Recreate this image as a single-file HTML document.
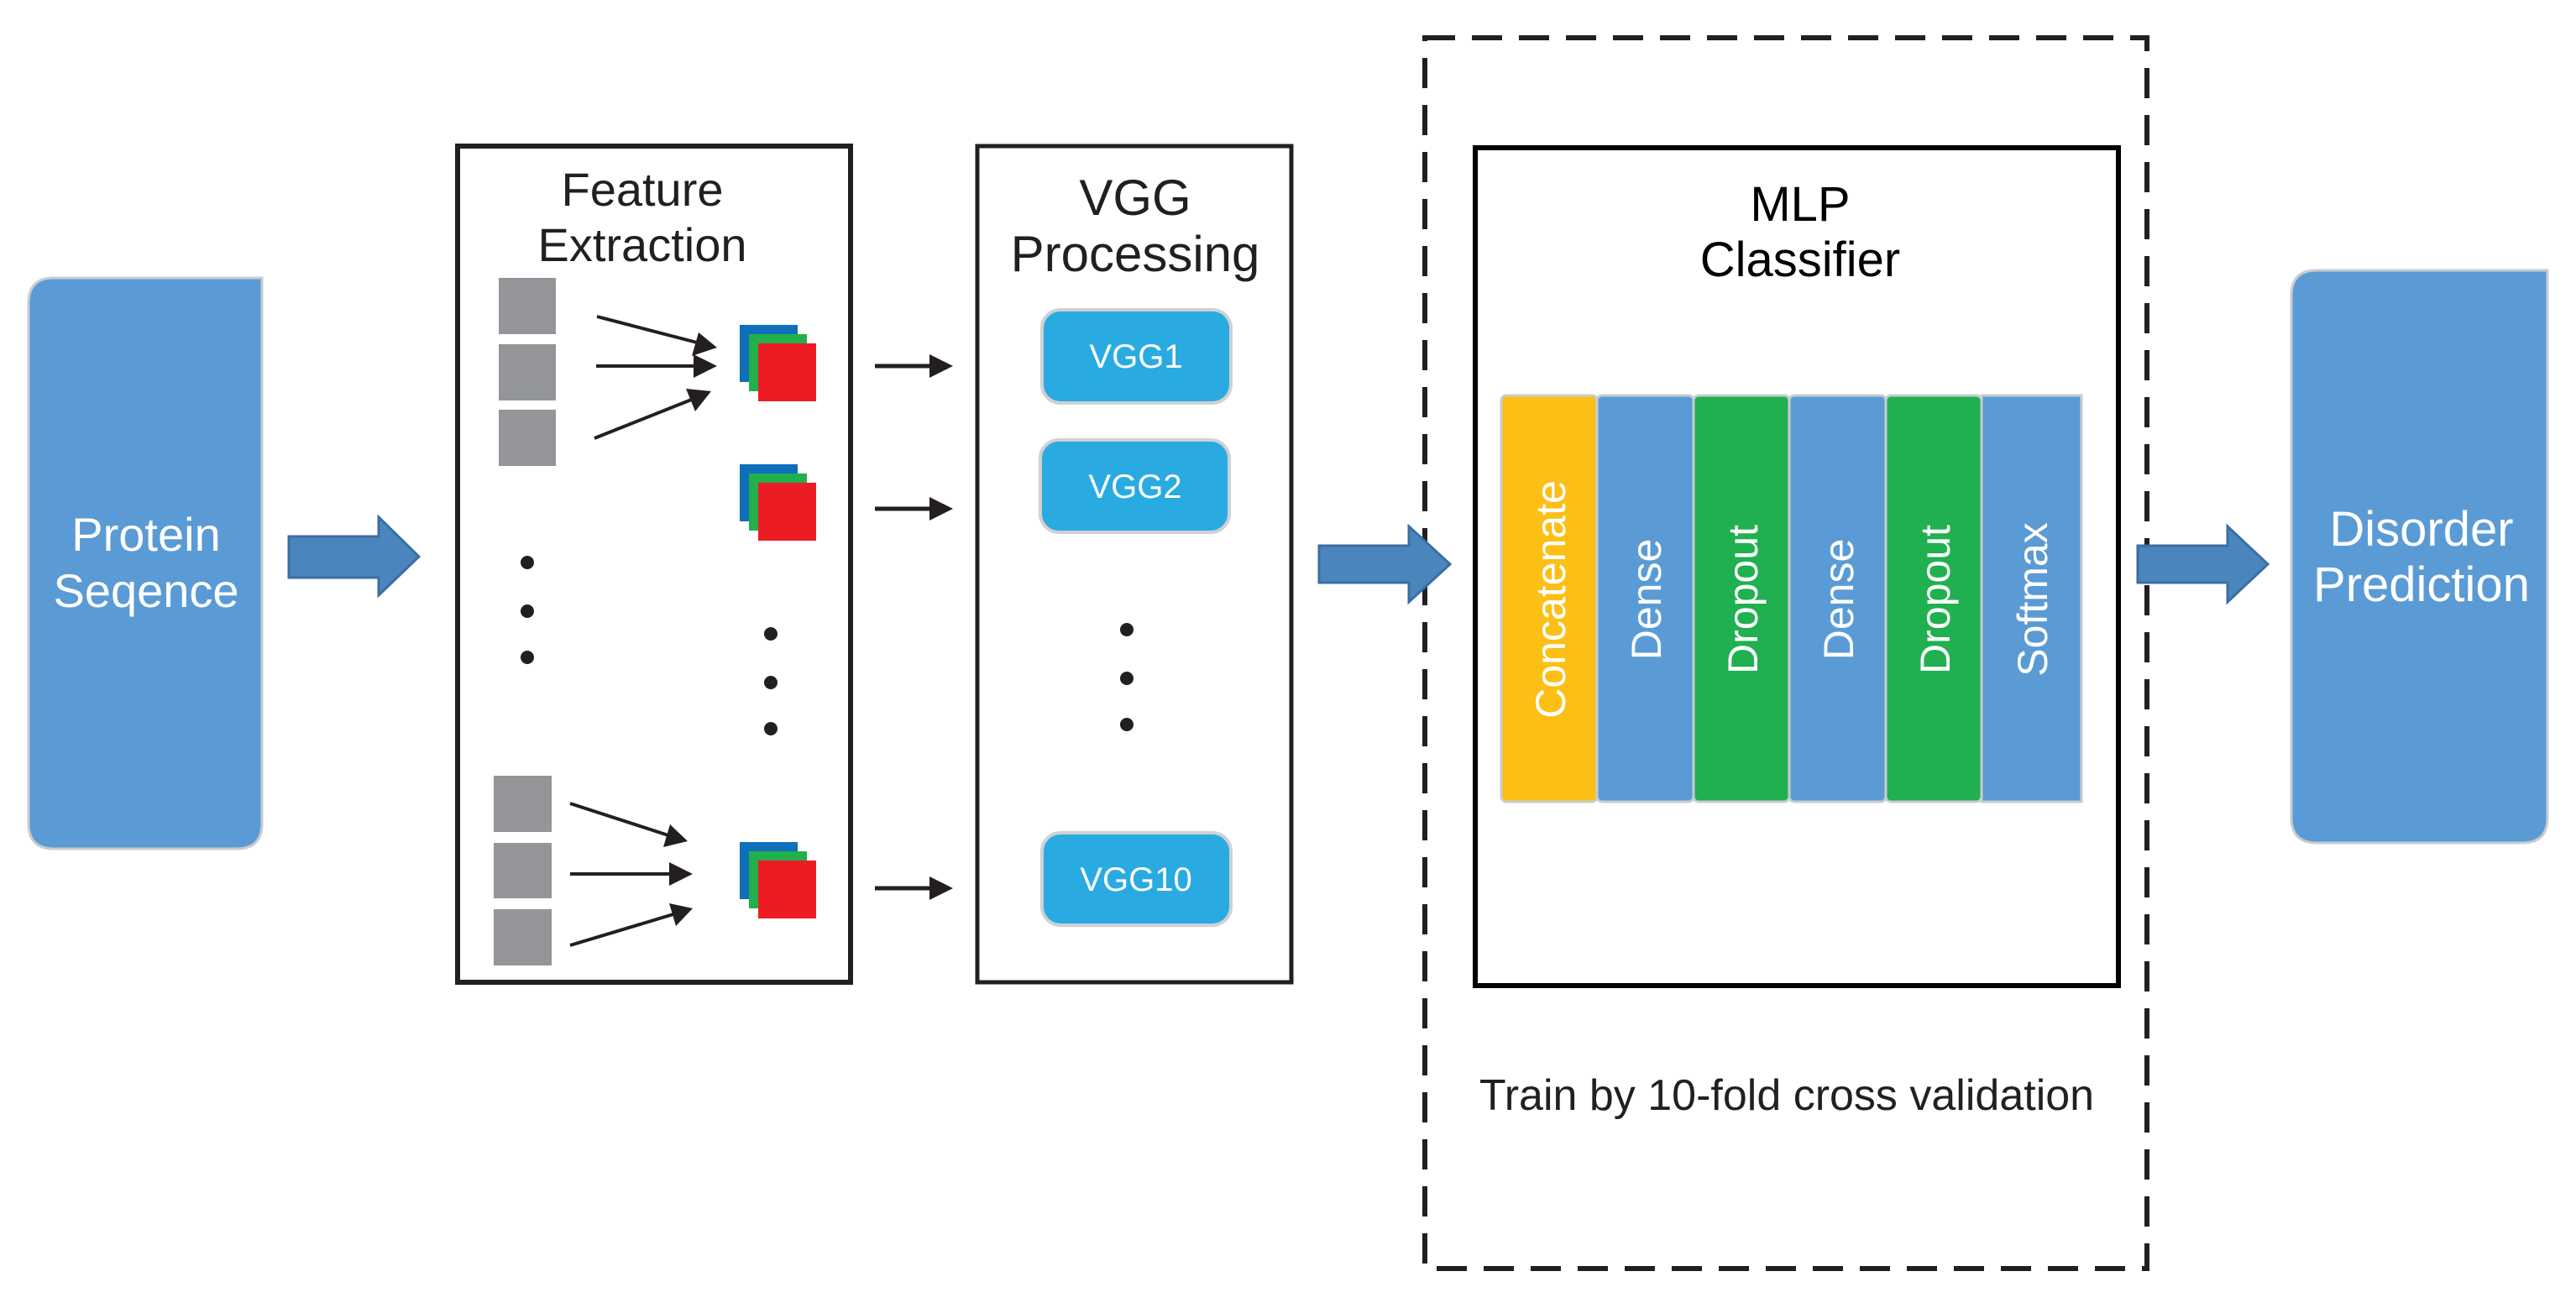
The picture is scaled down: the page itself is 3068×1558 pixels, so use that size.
<!DOCTYPE html>
<html><head><meta charset="utf-8"><style>
html,body{margin:0;padding:0;background:#fff;}
svg{display:block;}
text{font-family:"Liberation Sans","DejaVu Sans",sans-serif;}
</style></head><body>
<svg width="3068" height="1558" viewBox="0 0 3068 1558" xmlns="http://www.w3.org/2000/svg">
<!-- Protein box -->
<path d="M64 331 H312 V981 Q312 1011 282 1011 H64 Q34 1011 34 981 V361 Q34 331 64 331 Z" fill="#5b9bd5" stroke="#c9ccd0" stroke-width="3"/>
<text x="174" y="656" font-size="56" fill="#fff" text-anchor="middle">Protein</text>
<text x="174" y="723" font-size="56" fill="#fff" text-anchor="middle">Seqence</text>
<polygon points="344,639 451,639 451,616 499,663 451,709 451,688 344,688" fill="#4a86bd" stroke="#3b6ea3" stroke-width="3"/>
<!-- Feature box -->
<rect x="545" y="174" width="468" height="996" fill="none" stroke="#231f20" stroke-width="6"/>
<text x="765" y="245" font-size="56" fill="#231f20" text-anchor="middle">Feature</text>
<text x="765" y="311" font-size="56" fill="#231f20" text-anchor="middle">Extraction</text>
<g fill="#939598">
<rect x="594" y="331" width="68" height="67"/><rect x="594" y="410" width="68" height="67"/><rect x="594" y="488" width="68" height="67"/>
<rect x="588" y="924" width="69" height="67"/><rect x="588" y="1004" width="69" height="66"/><rect x="588" y="1083" width="69" height="67"/>
</g>
<g stroke="#231f20" stroke-width="4" fill="#231f20">
<line x1="711" y1="377" x2="830" y2="408"/><polygon points="854,414 824,424 832,396" stroke="none"/>
<line x1="710" y1="436" x2="830" y2="436"/><polygon points="854,436 826,450 826,422" stroke="none"/>
<line x1="708" y1="522" x2="826" y2="475"/><polygon points="847,466 828,490 817,463" stroke="none"/>
<line x1="679" y1="957" x2="796" y2="995"/><polygon points="819,1002 790,1009 798,982" stroke="none"/>
<line x1="679" y1="1041" x2="801" y2="1041"/><polygon points="825,1041 797,1055 797,1027" stroke="none"/>
<line x1="679" y1="1126" x2="802" y2="1089"/><polygon points="825,1082 805,1103 797,1076" stroke="none"/>
</g>
<g>
<rect x="881" y="387" width="69" height="68" fill="#0f6fba"/><rect x="892" y="398" width="69" height="68" fill="#21b04b"/><rect x="903" y="409" width="69" height="69" fill="#ed1c24"/>
<rect x="881" y="553" width="69" height="68" fill="#0f6fba"/><rect x="892" y="564" width="69" height="68" fill="#21b04b"/><rect x="903" y="575" width="69" height="69" fill="#ed1c24"/>
<rect x="881" y="1003" width="69" height="68" fill="#0f6fba"/><rect x="892" y="1014" width="69" height="68" fill="#21b04b"/><rect x="903" y="1025" width="69" height="69" fill="#ed1c24"/>
</g>
<g fill="#231f20">
<circle cx="628" cy="670" r="8"/><circle cx="628" cy="728" r="8"/><circle cx="628" cy="783" r="8"/>
<circle cx="918" cy="755" r="8"/><circle cx="918" cy="813" r="8"/><circle cx="918" cy="868" r="8"/>
<circle cx="1342" cy="750" r="8"/><circle cx="1342" cy="808" r="8"/><circle cx="1342" cy="863" r="8"/>
</g>
<g stroke="#231f20" stroke-width="5" fill="#231f20">
<line x1="1042" y1="436" x2="1110" y2="436"/><polygon points="1135,436 1107,450 1107,422" stroke="none"/>
<line x1="1042" y1="606" x2="1110" y2="606"/><polygon points="1135,606 1107,620 1107,592" stroke="none"/>
<line x1="1042" y1="1058" x2="1110" y2="1058"/><polygon points="1135,1058 1107,1072 1107,1044" stroke="none"/>
</g>
<!-- VGG box -->
<rect x="1164" y="174" width="374" height="996" fill="none" stroke="#231f20" stroke-width="5"/>
<text x="1352" y="256" font-size="60" fill="#231f20" text-anchor="middle">VGG</text>
<text x="1352" y="323" font-size="60" fill="#231f20" text-anchor="middle">Processing</text>
<g fill="#29abe2" stroke="#cfd1d3" stroke-width="4">
<rect x="1241" y="369" width="225" height="111" rx="22"/>
<rect x="1239" y="524" width="225" height="110" rx="22"/>
<rect x="1241" y="992" width="225" height="110" rx="22"/>
</g>
<g fill="#fff" font-size="40" text-anchor="middle">
<text x="1353" y="438">VGG1</text>
<text x="1352" y="593">VGG2</text>
<text x="1353" y="1061">VGG10</text>
</g>
<rect x="1697" y="45" width="860" height="1466" fill="none" stroke="#231f20" stroke-width="6" stroke-dasharray="36,20"/>
<rect x="1757" y="176" width="766" height="998" fill="none" stroke="#000" stroke-width="6"/>
<text x="2144" y="263" font-size="58" fill="#000" text-anchor="middle">MLP</text>
<text x="2144" y="329" font-size="58" fill="#000" text-anchor="middle">Classifier</text>
<g stroke="#c9ccd0" stroke-width="3">
<rect x="1788" y="471" width="114" height="484" rx="6" fill="#fbbf16"/>
<rect x="1902" y="471" width="115" height="484" rx="6" fill="#5b9bd5"/>
<rect x="2017" y="471" width="114" height="484" rx="6" fill="#20b050"/>
<rect x="2131" y="471" width="115" height="484" rx="6" fill="#5b9bd5"/>
<rect x="2246" y="471" width="114" height="484" rx="6" fill="#20b050"/>
<rect x="2360" y="471" width="119" height="484" fill="#5b9bd5"/>
</g>
<g fill="#fff" font-size="50" text-anchor="middle">
<text transform="translate(1864,714) rotate(-90)">Concatenate</text>
<text transform="translate(1978,714) rotate(-90)">Dense</text>
<text transform="translate(2093,714) rotate(-90)">Dropout</text>
<text transform="translate(2207,714) rotate(-90)">Dense</text>
<text transform="translate(2322,714) rotate(-90)">Dropout</text>
<text transform="translate(2438,714) rotate(-90)">Softmax</text>
</g>
<text x="2128" y="1322" font-size="52" fill="#231f20" text-anchor="middle">Train by 10-fold cross validation</text>
<polygon points="1571,650 1678,650 1678,627 1727,672 1678,717 1678,694 1571,694" fill="#4a86bd" stroke="#3b6ea3" stroke-width="3"/>
<polygon points="2546,650 2653,650 2653,627 2701,672 2653,717 2653,694 2546,694" fill="#4a86bd" stroke="#3b6ea3" stroke-width="3"/>
<path d="M2759 322 H3034 V974 Q3034 1004 3004 1004 H2759 Q2729 1004 2729 974 V352 Q2729 322 2759 322 Z" fill="#5b9bd5" stroke="#c9ccd0" stroke-width="3"/>
<text x="2884" y="650" font-size="58" fill="#fff" text-anchor="middle">Disorder</text>
<text x="2884" y="716" font-size="58" fill="#fff" text-anchor="middle">Prediction</text>
</svg>
</body></html>
